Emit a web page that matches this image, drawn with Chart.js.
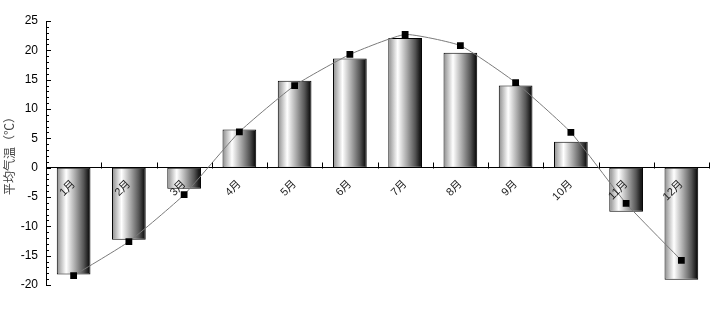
<!DOCTYPE html>
<html>
<head>
<meta charset="utf-8">
<script src="https://cdn.jsdelivr.net/npm/chart.js@4.4.0/dist/chart.umd.min.js"></script>
<style>
  html, body { margin: 0; padding: 0; background: #fff; }
  #wrap { width: 710px; height: 320px; position: relative; }
</style>
</head>
<body>
<div id="wrap"><canvas id="tempChart"></canvas></div>
<script>
// Monthly values
const months = ['1月', '2月', '3月', '4月', '5月', '6月', '7月', '8月', '9月', '10月', '11月', '12月'];
const barTemps = [-18.2, -12.3, -3.6, 6.5, 14.8, 18.6, 22.1, 19.6, 14.0, 4.4, -7.5, -19.1];
const lineTemps = [-18.4, -12.6, -4.6, 6.1, 14.0, 19.3, 22.7, 20.8, 14.5, 6.0, -6.1, -15.8];
const yMin = -20;
const yMax = 25;
const yStep = 5;
const yMinorStep = 1;
const yTitle = '平均气温（℃）';

const BAR_FRACTION = 0.61;
const FONT = "'Liberation Sans', 'Noto Sans CJK SC', sans-serif";

// Cylinder-like shading, built per bar from the x scale
function barGradient(ctx) {
    const chart = ctx.chart;
    const xScale = chart.scales && chart.scales.x;
    if (!chart.chartArea || !xScale || ctx.type !== 'data') {
        return '#bbbbbb';
    }
    const center = xScale.getPixelForValue(ctx.dataIndex);
    const half = (xScale.width / months.length) * BAR_FRACTION / 2;
    const g = chart.ctx.createLinearGradient(center - half, 0, center + half, 0);
    g.addColorStop(0, '#8c8c8c');
    g.addColorStop(0.28, '#ffffff');
    g.addColorStop(0.55, '#a8a8a8');
    g.addColorStop(0.8, '#555555');
    g.addColorStop(1, '#000000');
    return g;
}

// Inside tick marks: minor/major on the value axis, boundaries on the category axis
const axisTicks = {
    id: 'axisTicks',
    afterDraw(chart) {
        const { ctx, scales: { x, y } } = chart;
        ctx.save();
        ctx.strokeStyle = '#000';
        ctx.lineWidth = 1;
        ctx.beginPath();
        for (let v = yMin; v <= yMax; v += yMinorStep) {
            const py = Math.round(y.getPixelForValue(v)) + 0.5;
            const len = (v % yStep === 0) ? 5 : 3;
            ctx.moveTo(x.left, py);
            ctx.lineTo(x.left + len, py);
        }
        const zeroY = Math.round(y.getPixelForValue(0)) + 0.5;
        for (let i = 0; i <= months.length; i++) {
            const px = Math.round(x.getPixelForValue(i - 0.5)) + 0.5;
            ctx.moveTo(px, zeroY);
            ctx.lineTo(px, zeroY - 6);
        }
        ctx.stroke();
        ctx.restore();
    }
};

const canvas = document.getElementById('tempChart');
new Chart(canvas.getContext('2d'), {
    type: 'bar',
    data: {
        labels: months,
        datasets: [
            {
                type: 'line',
                label: 'line',
                data: lineTemps,
                borderColor: '#7a7a7a',
                borderWidth: 1,
                tension: 0.15,
                pointStyle: 'rect',
                pointRadius: 4.8,
                pointBorderWidth: 0,
                pointBackgroundColor: '#000',
                fill: false,
                order: 0
            },
            {
                type: 'bar',
                label: 'bar',
                data: barTemps,
                backgroundColor: barGradient,
                borderColor: '#000',
                borderWidth: 1,
                borderSkipped: false,
                barPercentage: 1,
                categoryPercentage: BAR_FRACTION,
                order: 1
            }
        ]
    },
    options: {
        responsive: true,
        maintainAspectRatio: false,
        animation: false,
        layout: {
            autoPadding: false,
            padding: { top: 21, right: 1, bottom: 35, left: 0 }
        },
        plugins: {
            legend: { display: false },
            tooltip: { enabled: false }
        },
        scales: {
            x: {
                position: { y: 0 },
                offset: true,
                grid: { display: false, drawTicks: false },
                border: { display: true, color: '#000', width: 1 },
                ticks: {
                    autoSkip: false,
                    minRotation: 45,
                    maxRotation: 45,
                    padding: 10,
                    z: 1,
                    color: '#222',
                    font: { family: FONT, size: 11 }
                },
                afterFit(scale) {
                    scale.paddingLeft = 0;
                    scale.paddingRight = 0;
                }
            },
            y: {
                min: yMin,
                max: yMax,
                grid: { display: false, drawTicks: false },
                border: { display: true, color: '#000', width: 1 },
                ticks: {
                    stepSize: yStep,
                    padding: 8,
                    color: '#000',
                    font: { family: FONT, size: 12 }
                },
                title: {
                    display: true,
                    text: yTitle,
                    color: '#444',
                    padding: { top: 2, bottom: 0 },
                    font: { family: "'Noto Sans CJK SC', sans-serif", size: 12 }
                },
                afterFit(scale) { scale.width = 46; }
            }
        }
    },
    plugins: [axisTicks]
});
</script>
</body>
</html>
